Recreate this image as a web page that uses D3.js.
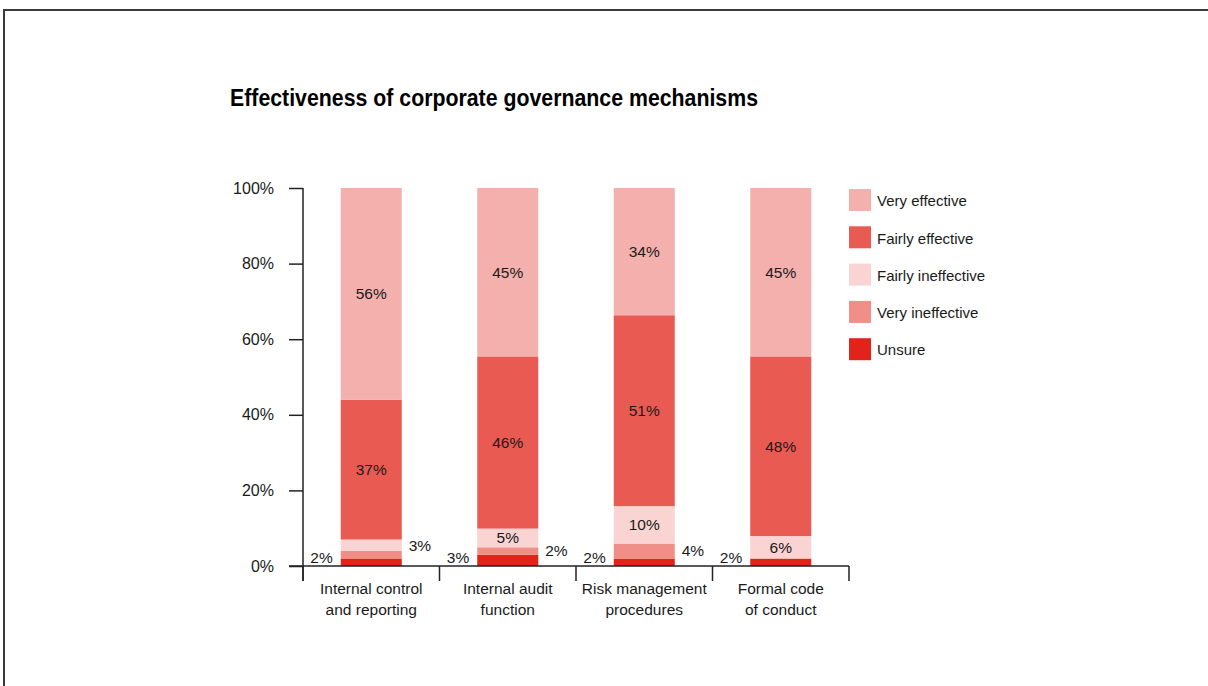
<!DOCTYPE html>
<html>
<head>
<meta charset="utf-8">
<script src="https://cdn.jsdelivr.net/npm/d3@7"></script>
<style>
  html, body { margin: 0; padding: 0; background: #fff; }
  svg { display: block; }
  text { font-family: "Liberation Sans", Arial, sans-serif; fill: #1a1a1a; }
</style>
</head>
<body>
<svg id="chart" width="1208" height="686"></svg>
<script>
// Survey responses per mechanism (percent of respondents)
const categories = [
  ["Internal control", "and reporting"],
  ["Internal audit", "function"],
  ["Risk management", "procedures"],
  ["Formal code", "of conduct"]
];
const seriesNames = ["Unsure", "Very ineffective", "Fairly ineffective", "Fairly effective", "Very effective"];
const unsure            = [2, 3, 2, 2];
const veryIneffective   = [2, 2, 4, 0];
const fairlyIneffective = [3, 5, 10, 6];
const fairlyEffective   = [37, 46, 51, 48];
const veryEffective     = [56, 45, 34, 45];
const seriesColors = ["#e2231a", "#f08e88", "#f9d4d3", "#e85a52", "#f4b0ac"];
const legendOrder = ["Very effective", "Fairly effective", "Fairly ineffective", "Very ineffective", "Unsure"];
// Small segments annotated beside the bar: left side shows "Unsure", right side a chosen series
const rightLabelSeries = ["Fairly ineffective", "Very ineffective", "Very ineffective", null];
const yTicks = [0, 0.2, 0.4, 0.6, 0.8, 1];

const seriesValues = [unsure, veryIneffective, fairlyIneffective, fairlyEffective, veryEffective];
const rows = categories.map((c, i) => {
  const r = { key: c.join(" ") };
  seriesNames.forEach((s, j) => { r[s] = seriesValues[j][i]; });
  return r;
});

const svg = d3.select("#chart");

// Page frame
svg.append("path")
  .attr("d", "M4,686 L4,10 L1208,10")
  .attr("fill", "none")
  .attr("stroke", "#3a3a3a")
  .attr("stroke-width", 2);

// Title (condensed bold)
svg.append("text")
  .attr("x", 230).attr("y", 106)
  .attr("font-size", 24.5)
  .attr("font-weight", "bold")
  .style("fill", "#000")
  .attr("textLength", 528)
  .attr("lengthAdjust", "spacingAndGlyphs")
  .text("Effectiveness of corporate governance mechanisms");

const x0 = 303, x1 = 849, yTop = 188, yBase = 566;
const x = d3.scaleBand().domain(rows.map(d => d.key)).range([x0, x1]).padding(0);
const y = d3.scaleLinear().domain([0, 1]).range([yBase, yTop]);
const color = d3.scaleOrdinal().domain(seriesNames).range(seriesColors);

const stack = d3.stack().keys(seriesNames).offset(d3.stackOffsetExpand);
const layers = stack(rows);

const barW = x.bandwidth() * 0.447;
const bx = d => x(d.data.key) + (x.bandwidth() - barW) / 2;

const g = svg.append("g");
g.selectAll("g.layer")
  .data(layers)
  .join("g")
  .attr("class", "layer")
  .attr("fill", d => color(d.key))
  .selectAll("rect")
  .data(d => d)
  .join("rect")
  .attr("x", bx)
  .attr("width", barW)
  .attr("y", d => y(d[1]))
  .attr("height", d => Math.max(0, y(d[0]) - y(d[1])));

// Value labels
const fontSize = 15.5;
layers.forEach(layer => {
  layer.forEach((d, i) => {
    const v = d.data[layer.key];
    const cx = bx(d) + barW / 2;
    const cy = (y(d[0]) + y(d[1])) / 2;
    if (layer.key === "Unsure") {
      svg.append("text")
        .attr("x", bx(d) - 8).attr("y", yBase - 3)
        .attr("text-anchor", "end").attr("font-size", fontSize)
        .text(v + "%");
    } else if (rightLabelSeries[i] === layer.key) {
      svg.append("text")
        .attr("x", bx(d) + barW + 7).attr("y", cy)
        .attr("dy", "0.35em").attr("font-size", fontSize)
        .text(v + "%");
    } else if (v >= 5) {
      svg.append("text")
        .attr("x", cx).attr("y", cy)
        .attr("dy", "0.35em").attr("text-anchor", "middle").attr("font-size", fontSize)
        .text(v + "%");
    }
  });
});

// Y axis
const yAxis = d3.axisLeft(y).tickValues(yTicks).tickFormat(d3.format(".0%")).tickSize(14).tickPadding(15);
const ya = svg.append("g").attr("transform", `translate(${x0},0)`).call(yAxis);
ya.select(".domain").remove();
ya.selectAll(".tick line").attr("stroke", "#222").attr("stroke-width", 1.5);
ya.selectAll(".tick text").attr("font-size", 16).attr("font-family", "Liberation Sans, Arial, sans-serif").style("fill", "#1a1a1a");
svg.append("line")
  .attr("x1", x0).attr("x2", x0).attr("y1", yTop).attr("y2", yBase + 15)
  .attr("stroke", "#222").attr("stroke-width", 1.5);

// X axis with separators between categories
svg.append("line")
  .attr("x1", x0 - 14).attr("x2", x1).attr("y1", yBase).attr("y2", yBase)
  .attr("stroke", "#222").attr("stroke-width", 1.5);
const bounds = rows.map(d => x(d.key)).concat([x1]);
svg.selectAll("line.sep")
  .data(bounds)
  .join("line")
  .attr("class", "sep")
  .attr("x1", d => d).attr("x2", d => d)
  .attr("y1", yBase).attr("y2", yBase + 15)
  .attr("stroke", "#222").attr("stroke-width", 1.5);

const catLabels = svg.selectAll("text.cat")
  .data(rows.map((r, i) => ({ key: r.key, lines: categories[i] })))
  .join("text")
  .attr("class", "cat")
  .attr("text-anchor", "middle")
  .attr("font-size", fontSize)
  .attr("x", d => x(d.key) + x.bandwidth() / 2)
  .attr("y", 594);
catLabels.selectAll("tspan")
  .data(d => d.lines.map(t => ({ t, cx: x(d.key) + x.bandwidth() / 2 })))
  .join("tspan")
  .attr("x", d => d.cx)
  .attr("dy", (d, i) => i === 0 ? 0 : 21)
  .text(d => d.t);

// Legend
const legend = svg.append("g").attr("transform", "translate(849,189)");
const li = legend.selectAll("g")
  .data(legendOrder)
  .join("g")
  .attr("transform", (d, i) => `translate(0,${i * 37.3})`);
li.append("rect").attr("width", 22).attr("height", 22).attr("fill", d => color(d));
li.append("text").attr("x", 28).attr("y", 12).attr("dy", "0.35em")
  .attr("font-size", 15).text(d => d);
</script>
</body>
</html>
